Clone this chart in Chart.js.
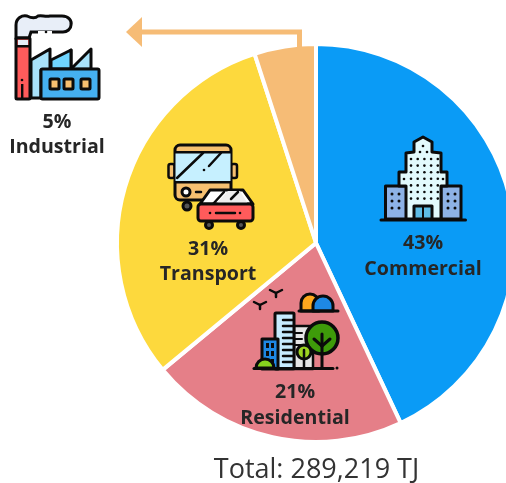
<!DOCTYPE html>
<html><head><meta charset="utf-8">
<style>html,body{margin:0;padding:0;background:#fff;overflow:hidden}#w{width:506px;height:483px;overflow:hidden}canvas{display:block}</style>
<script src="https://cdn.jsdelivr.net/npm/chart.js@4/dist/chart.umd.min.js"></script>
</head><body><div id="w"><canvas id="c" width="632" height="486"></canvas></div>
<script>
const categories = ["Commercial","Residential","Transport","Industrial"];
const shares = [43,21,31,5];
const sliceColors = ["#0A9BF6","#E57F88","#FDD93D","#F6BC76"];
const totalLabel = "Total: 289,219 TJ";
const labelSpots = [[423,243,269],[295,392,418],[208,249,274],[57,122,147]];
const K="#0b0b0b";
function poly(c,p,f,lw=3,close=true){c.beginPath();p.forEach((q,i)=>i?c.lineTo(q[0],q[1]):c.moveTo(q[0],q[1]));if(close)c.closePath();if(f){c.fillStyle=f;c.fill();}if(lw){c.lineWidth=lw;c.strokeStyle=K;c.lineJoin="round";c.lineCap="round";c.stroke();}}
function rect(c,x,y,w,h,f,lw=3,r=1.5){c.beginPath();c.roundRect(x,y,w,h,r);if(f){c.fillStyle=f;c.fill();}if(lw){c.lineWidth=lw;c.strokeStyle=K;c.stroke();}}
function circ(c,x,y,r,f,lw=3){c.beginPath();c.arc(x,y,r,0,Math.PI*2);if(f){c.fillStyle=f;c.fill();}if(lw){c.lineWidth=lw;c.strokeStyle=K;c.stroke();}}
function dot(c,x,y,r=1.3){circ(c,x,y,r,K,0);}
function arrow(c){c.strokeStyle="#F6BC76";c.fillStyle="#F6BC76";c.lineWidth=5;c.lineJoin="miter";c.lineCap="butt";
 c.beginPath();c.moveTo(299.5,48);c.lineTo(299.5,32);c.lineTo(140,32);c.stroke();
 c.beginPath();c.moveTo(126,32);c.lineTo(142,17);c.lineTo(142,47);c.closePath();c.fill();}
function factory(c){
 c.beginPath();c.moveTo(16,38);c.lineTo(16,25);c.bezierCurveTo(16,18,22,15,27,16);c.bezierCurveTo(31,18,35,19,38,16);c.bezierCurveTo(42,15,45,17,50,16);c.lineTo(62,16);c.bezierCurveTo(69,16,72,21,71,25);c.bezierCurveTo(71,29,67,32,63,32);c.lineTo(31,32);c.lineTo(29,38);c.closePath();
 c.fillStyle="#E8EEF8";c.fill();c.lineWidth=3;c.strokeStyle=K;c.stroke();
 c.fillStyle="#fff";c.fillRect(38,31,14,3);
 dot(c,46,32);
 poly(c,[[31,60],[50,49],[50,69],[71,50],[71,69],[91,49],[91,69],[41,70],[41,98],[31,98]],"#A8E2FA");
 poly(c,[[51,69],[51,60],[71,50],[71,69]],"#6FD5FF");
 rect(c,41,69,58,30,"#45B0F0");
 [[50,79],[64,79],[81,79]].forEach(p=>rect(c,p[0],p[1],9,10,"#F6C070",3,1));
 rect(c,16,38,14,61,"#FF5B5B",3,1);
 c.fillStyle="#E8EEF8";c.fillRect(18,40,10,6);
 c.fillStyle=K;c.fillRect(16,45,14,2.5);
 dot(c,22,80);c.fillRect(21,84,2.4,14);
}
function bus(c){
 rect(c,168.5,164,6,14,"#F6C070",2.5,2);rect(c,231,164,6,14,"#F6C070",2.5,2);
 circ(c,187,206,4,"#555",3);
 rect(c,175,145,56,55,"#F6C070",3,5);
 rect(c,175.5,152,55,30,"#C6F0FF",0,0);
 c.fillStyle=K;c.fillRect(175,151,56,2.5);c.fillRect(175,181,56,2.5);
 poly(c,[[177,178],[203,153]],null,2.5,false);poly(c,[[209,166],[221,153]],null,2.5,false);dot(c,204,170);
 circ(c,186,192,4,"#fff",3);poly(c,[[196,192],[201,192]],null,2.5,false);
 circ(c,209,225,3.5,"#555",3);circ(c,241,225,3.5,"#555",3);
 poly(c,[[200,204],[210,190],[243,190],[253,204]],"#fff");
 poly(c,[[216,204],[228,191],[240,191],[248,204]],"#eee",0);
 poly(c,[[213,204],[224,192]],null,2.5,false);poly(c,[[231,199],[238,192]],null,2.5,false);
 rect(c,198,204,55,17,"#FF5B5B",3,3);
 poly(c,[[216,213],[235,213]],null,2.5,false);dot(c,210,213);dot(c,240,213);
}
function tower(c){
 poly(c,[[381,220],[465.5,220]],null,3,false);
 rect(c,385.5,186,21,33,"#8DB2E6",3,0);rect(c,441,186,20,33,"#8DB2E6",3,0);
 poly(c,[[423,137],[432,142],[432,152],[441,153],[441,172],[447,172],[447,186],[441,186],[441,219],[406,219],[406,186],[399,186],[399,172],[406,172],[406,153],[414,152],[414,142]],"#E2FAFD");
 for(let y=159;y<=200;y+=6.6)for(let x=411;x<=438;x+=6.7)dot(c,x,y);
 dot(c,423,146);dot(c,420,152);dot(c,427,152);
 dot(c,404,179);dot(c,443,179);
 rect(c,414,206,18,13,"#5EBDE6",3,0);poly(c,[[423,207],[423,219]],null,2,false);
 for(let y=194;y<=214;y+=7){[392,399,448,455].forEach(x=>dot(c,x,y,1.5));}
}
function city(c){
 const bird=(x,y)=>{poly(c,[[x-6,y-3],[x,y],[x+6,y-3]],null,2.5,false);poly(c,[[x,y],[x,y+4]],null,2.5,false);};
 bird(260,305);bird(276,293);
 c.beginPath();c.arc(310,303,9,Math.PI,0);c.lineTo(319,311);c.lineTo(301,311);c.closePath();c.fillStyle="#FFA81E";c.fill();c.lineWidth=3;c.strokeStyle=K;c.stroke();
 c.beginPath();c.arc(323,306,10,Math.PI,0);c.lineTo(333,311);c.lineTo(313,311);c.closePath();c.fillStyle="#1E88E5";c.fill();c.stroke();
 poly(c,[[299,311],[338,311]],null,3,false);
 rect(c,294,326,19,43,"#E6E6E6",2.5,0);
 for(let y=333;y<=347;y+=6)poly(c,[[295,y],[302,y]],null,2,false);
 rect(c,275,313,19,56,"#C6ECFF",3,1);
 for(let y=320;y<=362;y+=6)poly(c,[[283,y],[293,y]],null,2.5,false);
 rect(c,262,339,16,30,"#1E88E5",3,0);
 [345,353,361].forEach(y=>{c.fillStyle=K;c.fillRect(266,y-2,3,5);c.fillRect(271,y-2,3,5);});
 c.beginPath();c.arc(265,368,9,Math.PI,0);c.closePath();c.fillStyle="#86D21E";c.fill();c.lineWidth=3;c.stroke();
 circ(c,322,338,16,"#3E9B0A",3.5);
 poly(c,[[322,334],[322,368]],null,3,false);poly(c,[[322,346],[314,339]],null,3,false);poly(c,[[322,346],[330,339]],null,3,false);
 circ(c,304,352,7,"#9CD321",3);poly(c,[[304,350],[304,368]],null,2.5,false);
 poly(c,[[254,368.5],[333,368.5]],null,3,false);dot(c,337,368,1.5);
}
const artPlugin={id:"art",afterDatasetsDraw(chart){const c=chart.ctx;c.save();
 arrow(c);factory(c);bus(c);tower(c);city(c);
 c.fillStyle="#262626";c.textAlign="center";c.textBaseline="alphabetic";
 c.font="bold 19.6px 'Open Sans'";
 categories.forEach((n,i)=>{const s=labelSpots[i];c.fillText(shares[i]+"%",s[0],s[1]+6);c.fillText(n,s[0],s[2]+6);});
 c.fillStyle="#333";c.font="27px 'Open Sans'";c.fillText(totalLabel,316.5,478);
 c.restore();}};
new Chart(document.getElementById("c"),{type:"pie",
 data:{labels:categories,datasets:[{data:shares,backgroundColor:sliceColors,borderColor:"#fff",borderWidth:4}]},
 options:{responsive:false,animation:false,layout:{padding:{left:0,right:0,top:42,bottom:42}},
 plugins:{legend:{display:false},tooltip:{enabled:false}}},
 plugins:[artPlugin]});
</script></body></html>
